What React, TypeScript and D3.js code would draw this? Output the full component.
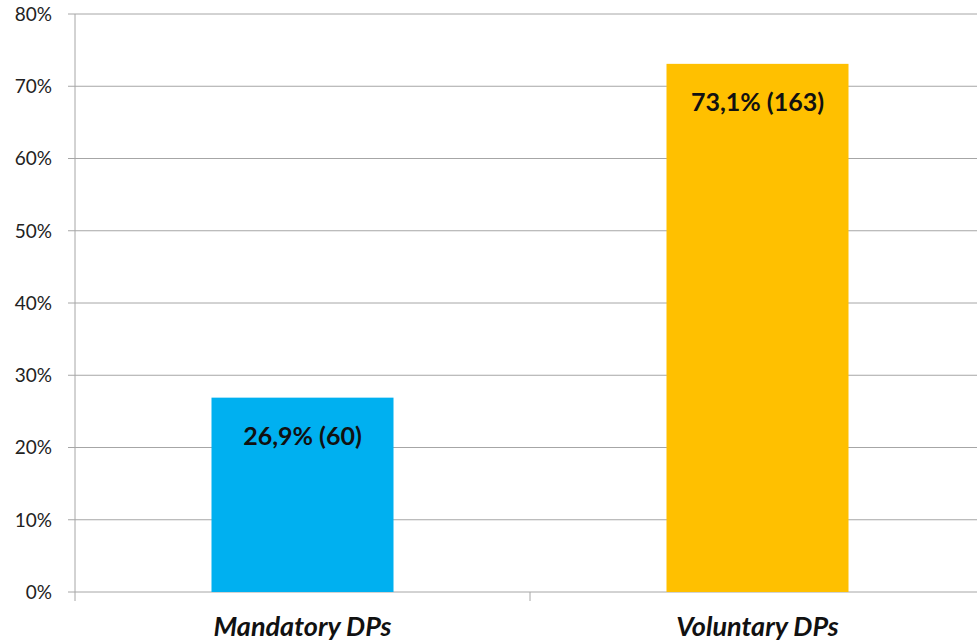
import React from 'react';
import * as d3 from 'd3';

const categories = ['Mandatory DPs', 'Voluntary DPs'];
const shares = [26.9, 73.1];
const counts = [60, 163];
const barColors = ['#00B0F0', '#FFC000'];
const yTicks = [0, 10, 20, 30, 40, 50, 60, 70, 80];

const App = () => {
  const width = 977;
  const height = 640;
  const margin = { top: 14, right: -8, bottom: 48, left: 75 };

  const x = d3
    .scaleBand<string>()
    .domain(categories)
    .range([margin.left, width - margin.right])
    .paddingInner(0.6)
    .paddingOuter(0.3);

  const y = d3
    .scaleLinear()
    .domain([0, 80])
    .range([height - margin.bottom, margin.top]);

  const fmt = (v: number) => v.toFixed(1).replace('.', ',') + '%';
  const step = x.step();
  const font = 'Lato, "Open Sans", sans-serif';

  return (
    <>
      <style>{'body{margin:0}'}</style>
      <svg width={width} height={height} style={{ display: 'block', background: '#fff' }}>
        {/* gridlines + tick labels */}
        {yTicks.map((t) => (
          <g key={t}>
            <line
              x1={margin.left - 7}
              x2={width}
              y1={y(t)}
              y2={y(t)}
              stroke="#a6a6a6"
              strokeWidth={1}
            />
            <text
              x={52}
              y={y(t)}
              dy="0.36em"
              textAnchor="end"
              fontFamily={font}
              fontSize={19}
              fill="#222"
            >
              {t}%
            </text>
          </g>
        ))}

        {/* y axis line */}
        <line
          x1={margin.left}
          x2={margin.left}
          y1={y(80)}
          y2={y(0) + 9}
          stroke="#a6a6a6"
        />

        {/* category separators */}
        {categories.slice(1).map((c) => {
          const sx = (x(c) as number) - (step - x.bandwidth()) / 2;
          return (
            <line key={c} x1={sx} x2={sx} y1={y(0)} y2={y(0) + 9} stroke="#a6a6a6" />
          );
        })}

        {/* bars */}
        {categories.map((c, i) => (
          <g key={c}>
            <rect
              x={x(c)}
              y={y(shares[i])}
              width={x.bandwidth()}
              height={y(0) - y(shares[i])}
              fill={barColors[i]}
            />
            <text
              x={(x(c) as number) + x.bandwidth() / 2}
              y={y(shares[i]) + 47}
              textAnchor="middle"
              fontFamily={font}
              fontWeight="bold"
              fontSize={25}
              fill="#111"
            >
              {fmt(shares[i])} ({counts[i]})
            </text>
            <text
              x={(x(c) as number) + x.bandwidth() / 2}
              y={y(0) + 44}
              textAnchor="middle"
              fontFamily={font}
              fontWeight="bold"
              fontStyle="italic"
              fontSize={27}
              fill="#111"
            >
              {c}
            </text>
          </g>
        ))}
      </svg>
    </>
  );
};

export default App;
